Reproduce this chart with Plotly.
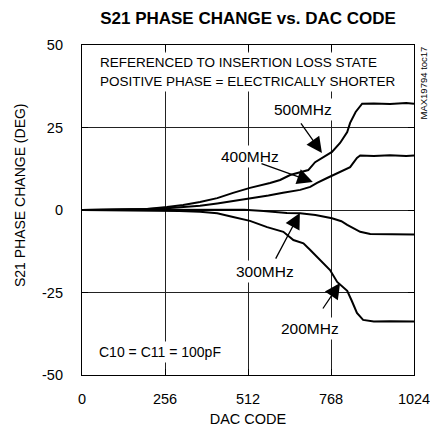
import plotly.graph_objects as go

# ---- data ----
x500 = [0, 100, 200, 262, 312, 364, 417, 466, 518, 580, 611, 642, 673, 698, 719, 744, 771, 796, 818, 827, 844, 864, 900, 950, 1000, 1024]
y500 = [0, 0.05, 0.3, 0.9, 1.5, 2.4, 3.6, 5.2, 6.7, 8.2, 9.1, 10.6, 11.5, 12.1, 14.5, 16.1, 17.6, 20.3, 23.6, 26.4, 29.7, 32.2, 32.3, 32.1, 32.4, 32.2]

x400 = [0, 100, 200, 262, 312, 364, 417, 466, 518, 575, 620, 673, 704, 725, 756, 775, 806, 827, 848, 858, 900, 950, 1000, 1024]
y400 = [0, 0.05, 0.3, 0.5, 0.8, 1.3, 2.0, 2.7, 3.6, 4.4, 5.2, 6.1, 7.0, 8.2, 9.7, 10.6, 12.1, 13.0, 15.8, 16.5, 16.4, 16.6, 16.4, 16.5]

x300 = [0, 200, 300, 400, 500, 560, 632, 673, 720, 771, 800, 818, 840, 858, 889, 950, 1000, 1024]
y300 = [0, 0, 0.1, 0.2, 0.1, -0.3, -0.9, -1.0, -1.5, -2.5, -3.4, -4.5, -5.8, -6.6, -7.3, -7.4, -7.3, -7.4]

x200 = [0, 200, 300, 364, 417, 466, 518, 571, 621, 652, 683, 704, 735, 765, 787, 805, 818, 832, 848, 867, 900, 950, 1000, 1024]
y200 = [0, -0.1, -0.3, -0.5, -1.0, -2.1, -3.3, -5.2, -6.6, -9.1, -10.1, -12.1, -15.2, -18.2, -21.8, -23.3, -24.5, -27.5, -31.2, -33.3, -33.8, -33.7, -33.9, -33.8]

x_ticks = [0, 256, 512, 768, 1024]
y_ticks = [-50, -25, 0, 25, 50]

title_text = "<b>S21 PHASE CHANGE vs. DAC CODE</b>"
x_title = "DAC CODE"
y_title = "S21 PHASE CHANGE (DEG)"
note_lines = ["REFERENCED TO INSERTION LOSS STATE", "POSITIVE PHASE = ELECTRICALLY SHORTER"]
cap_note = "C10 = C11 = 100pF"
toc = "MAX19794 toc17"

FONT = "Liberation Sans, Arial, Helvetica, sans-serif"

fig = go.Figure()
for xs, ys in [(x500, y500), (x400, y400), (x300, y300), (x200, y200)]:
    fig.add_trace(go.Scatter(x=xs, y=ys, mode="lines",
                             line=dict(color="black", width=2), showlegend=False,
                             hoverinfo="skip"))

axis_common = dict(showline=True, linecolor="black", linewidth=1.2, mirror="allticks",
                   ticks="inside", ticklen=6, tickcolor="black", tickwidth=1,
                   showgrid=True, gridcolor="#222", gridwidth=1, zeroline=False,
                   ticklabeloverflow="allow", automargin=False,
                   tickfont=dict(family=FONT, size=14.5, color="black"))

fig.update_xaxes(range=[0, 1024], tickvals=x_ticks, ticktext=[str(v) for v in x_ticks],
                 title=dict(text=x_title, font=dict(family=FONT, size=14.5, color="black"), standoff=8),
                 ticklabelstandoff=10, **axis_common)
fig.update_yaxes(range=[-50, 50], tickvals=y_ticks, ticktext=[str(v) for v in y_ticks],
                 ticklabelstandoff=15, **axis_common)

anns = []
# y-axis title (placed as rotated text, slightly above the plot centre as in the reference)
anns.append(dict(x=-0.187, y=0.545, xref="paper", yref="paper", text=y_title, textangle=-90,
                 showarrow=False, xanchor="center", yanchor="middle",
                 font=dict(family=FONT, size=14, color="black")))
for line, ly in zip(note_lines, [44.8, 38.8]):
    anns.append(dict(x=46, y=ly, xref="x", yref="y", text=line,
                     showarrow=False, xanchor="left", yanchor="middle", align="left",
                     font=dict(family=FONT, size=13.5, color="black"),
                     bgcolor="white", borderpad=2))
labels = [("500MHz", 682, 30.6, 15.5), ("400MHz", 518, 16.1, 15.5), ("300MHz", 565, -18.5, 15.5),
          ("200MHz", 703, -36.0, 15.5), (cap_note, 241, -43.0, 14)]
for t, lx, ly, fs in labels:
    anns.append(dict(x=lx, y=ly, xref="x", yref="y", text=t, showarrow=False,
                     font=dict(family=FONT, size=fs, color="black"),
                     bgcolor="white", borderpad=2))
arrows = [((672, 26.7), (740, 17.3)), ((549, 14.2), (712, 8.5)),
          ((595, -15.2), (672, -0.9)), ((740, -30.3), (796, -22.1))]
for (tx, ty), (hx, hy) in arrows:
    anns.append(dict(x=hx, y=hy, ax=tx, ay=ty, xref="x", yref="y", axref="x", ayref="y",
                     text="", showarrow=True, arrowhead=2, arrowsize=2.4, arrowwidth=1.3,
                     arrowcolor="black", standoff=0, startstandoff=0))
anns.append(dict(x=1.0, y=1.0, xref="paper", yref="paper", xshift=9, text=toc, textangle=-90,
                 showarrow=False, xanchor="center", yanchor="top",
                 font=dict(family=FONT, size=9.5, color="black")))

fig.update_layout(
    width=430, height=436,
    margin=dict(l=82, r=16, t=45, b=61),
    paper_bgcolor="white", plot_bgcolor="white",
    title=dict(text=title_text, x=0.5, xref="paper", xanchor="center", y=0.958, yanchor="middle",
               font=dict(family=FONT, size=17, color="black")),
    annotations=anns,
)

fig.write_html("out.html", config={"displayModeBar": False},
               post_script="document.body.style.margin='0';document.body.style.padding='0';")
